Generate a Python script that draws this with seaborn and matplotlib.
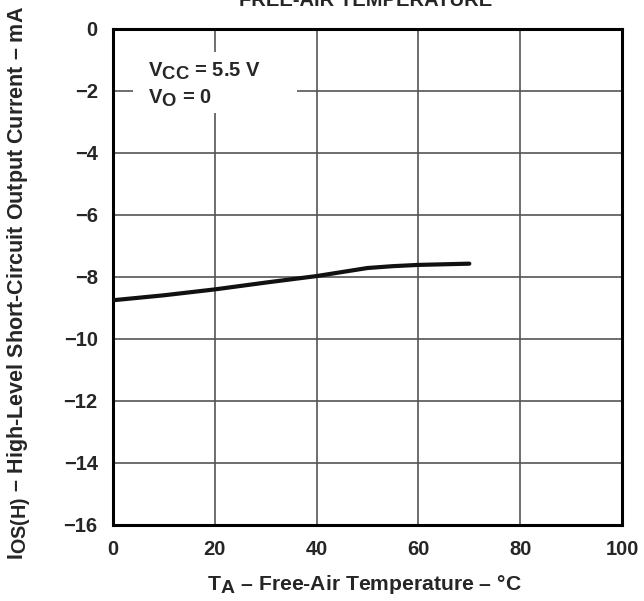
import matplotlib
matplotlib.use("Agg")
import matplotlib.pyplot as plt
import matplotlib._mathtext as _mt
import seaborn as sns
import pandas as pd
from matplotlib.patches import Rectangle

temps = [0, 10, 20, 30, 40, 45, 50, 55, 60, 65, 70]
current = [-8.75, -8.59, -8.40, -8.18, -7.97, -7.84, -7.71, -7.65, -7.61, -7.59, -7.57]
x_ticks = [0, 20, 40, 60, 80, 100]
y_ticks = [0, -2, -4, -6, -8, -10, -12, -14, -16]

# larger subscripts like the reference
_mt.SHRINK_FACTOR = 0.92

sns.set_style("white")
plt.rcParams['font.family'] = ['Liberation Sans', 'DejaVu Sans']
plt.rcParams['font.weight'] = 'bold'
plt.rcParams['mathtext.fontset'] = 'custom'
plt.rcParams['mathtext.rm'] = 'Liberation Sans:bold'
plt.rcParams['mathtext.it'] = 'Liberation Sans:bold'
plt.rcParams['mathtext.bf'] = 'Liberation Sans:bold'

FS = 14.5
fig = plt.figure(figsize=(6.44, 6.01), dpi=100)
ax = fig.add_axes([113/644, 1-525/601, (622-113)/644, (525-29)/601])

df = pd.DataFrame({"T": temps, "I": current})
sns.lineplot(data=df, x="T", y="I", ax=ax, color="#111111", linewidth=3, zorder=5)

ax.set_xlim(0, 100)
ax.set_ylim(-16, 0)
ax.set_xticks(x_ticks)
ax.set_yticks(y_ticks)
ax.set_xticklabels([str(t) for t in x_ticks], fontsize=FS, fontweight='bold')
ax.set_yticklabels([("\u2212" + str(-t)) if t < 0 else str(t) for t in y_ticks], fontsize=FS, fontweight='bold')
ax.tick_params(length=0, pad=11)
ax.grid(True, color="#555555", linewidth=1.2)
for s in ax.spines.values():
    s.set_color("black")
    s.set_linewidth(2.2)

ax.set_xlabel(r"T$_{\mathrm{A}}$ – Free-Air Temperature – °C", fontsize=15.2, fontweight='bold')
ax.set_ylabel(r"I$_{\mathrm{OS(H)}}$ – High-Level Short-Circuit Output Current – mA", fontsize=15.5, fontweight='bold')
ax.xaxis.set_label_coords((364 - 113) / 509, -(585 - 525) / 496)
ax.yaxis.set_label_coords(-(113 - 19.5) / 509, (525 - 283) / 496)
ax.xaxis.label.set_va('center')
ax.yaxis.label.set_va('center')

# white box behind annotation
ax.add_patch(Rectangle((3.9, -2.72), 32.2, 1.98, transform=ax.transData, facecolor='white', edgecolor='none', zorder=3))
ax.text(6.8, -1.35, r"V$_{\mathrm{CC}}$ = 5.5 V", fontsize=FS, fontweight='bold', zorder=4, va='center')
ax.text(6.8, -2.25, r"V$_{\mathrm{O}}$ = 0", fontsize=FS, fontweight='bold', zorder=4, va='center')

fig.text(366/644, 1-1/601, "FREE-AIR TEMPERATURE", fontsize=FS, fontweight='bold', ha='center', va='center')

fig.savefig("out.png", dpi=100)
